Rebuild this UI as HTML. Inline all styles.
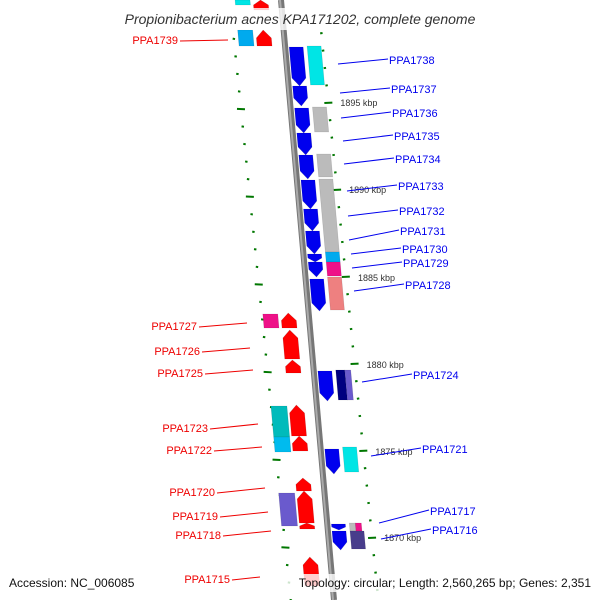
<!DOCTYPE html>
<html><head><meta charset="utf-8"><style>
body{margin:0;background:#fff}
svg{display:block;font-family:"Liberation Sans",sans-serif}
</style></head><body>
<svg id="map" width="600" height="600" viewBox="0 0 600 600">
<g id="ticks"></g>
<line x1="281" y1="0" x2="334" y2="600" stroke="#777" stroke-width="6"/>
<line x1="280" y1="0" x2="333" y2="600" stroke="#aaa" stroke-width="2"/>
<g id="genes"></g>
<g id="labels"></g>
<rect x="100" y="8" width="400" height="22" fill="#fff" opacity="0.8"/>
<text x="300" y="24" text-anchor="middle" font-size="14" font-style="italic" fill="#333">Propionibacterium acnes KPA171202, complete genome</text>
<rect x="260" y="574" width="336" height="18" fill="#fff" opacity="0.8"/>
<text x="9" y="587" font-size="12" fill="#111">Accession: NC_006085</text>
<text x="591" y="587" text-anchor="end" font-size="12" fill="#111">Topology: circular; Length: 2,560,265 bp; Genes: 2,351</text>
</svg>
<script>
const NS='http://www.w3.org/2000/svg';
const bx=y=>281+0.0885*y;
// genes: [y0,y1,lane(offset start),width,color,dir(1 down,-1 up,0 box)]
const genesData=[
[47,86,4,14,'#0000ee',1],[86,106,4,14,'#0000ee',1],[108,133,4,14,'#0000ee',1],[133,155,4,14,'#0000ee',1],
[155,179,4,14,'#0000ee',1],[180,209,4,14,'#0000ee',1],[209,231,4,14,'#0000ee',1],[231,254,4,14,'#0000ee',1],
[254,262,4,14,'#0000ee',1],[262,277,4,14,'#0000ee',1],[279,311,4,14,'#0000ee',1],[371,401,4,14,'#0000ee',1],
[449,474,4,14,'#0000ee',1],[531,550,4,14,'#0000ee',1],[524,530,4,14,'#0000ee',1],
[46,85,22,14,'#00e5e5',0],[107,132,22,14,'#bbbbbb',0],[154,177,22,14,'#bbbbbb',0],[179,252,22,14,'#bbbbbb',0],
[252,262,22,14,'#00aaee',0],[262,276,22,14,'#ee1188',0],[277,310,22,14,'#ee8080',0],
[370,400,22,9,'#000080',0],[370,400,31,6,'#6a5acd',0],[447,472,22,14,'#00e5e5',0],
[523,531,22,6,'#bbbbbb',0],[523,531,28,6,'#ee1188',0],[531,549,22,14,'#483d8b',0],
[0,10,-28,15,'#ff0000',-1],[30,46,-28,15,'#ff0000',-1],[313,328,-28,15,'#ff0000',-1],[330,359,-28,15,'#ff0000',-1],
[360,373,-28,15,'#ff0000',-1],[405,436,-28,15,'#ff0000',-1],[436,451,-28,15,'#ff0000',-1],[478,491,-28,15,'#ff0000',-1],
[491,523,-28,15,'#ff0000',-1],[523,529,-28,15,'#ff0000',-1],[557,586,-28,15,'#ff0000',-1],
[0,5,-46,15,'#00e5e5',0],[30,46,-46,15,'#00aaee',0],[314,328,-46,15,'#ee1188',0],
[406,437,-46,16,'#00bbbb',0],[437,452,-46,16,'#00bbee',0],[493,526,-46,16,'#6a5acd',0]
];
const rightLabels=[['PPA1738',60,338,64],['PPA1737',89,340,93],['PPA1736',113,341,118],['PPA1735',136,343,141],
['PPA1734',159,344,164],['PPA1733',186,347,191],['PPA1732',211,348,216],['PPA1731',231,349,240],['PPA1730',249,351,254],
['PPA1729',263,352,268],['PPA1728',285,354,291],['PPA1724',375,362,382],['PPA1721',449,371,456],['PPA1717',511,379,523],['PPA1716',530,381,539]];
const leftLabels=[['PPA1739',40,228,40],['PPA1727',326,247,323],['PPA1726',351,250,348],['PPA1725',373,253,370],
['PPA1723',428,258,424],['PPA1722',450,262,447],['PPA1720',492,265,488],['PPA1719',516,268,512],['PPA1718',535,271,531],['PPA1715',579,280,577]];
const majorTicks=['1895 kbp','1890 kbp','1885 kbp','1880 kbp','1875 kbp','1870 kbp'];
const majorY=[103,190,278,365,452,538];
function el(tag,attrs,parent){const e=document.createElementNS(NS,tag);for(const k in attrs)e.setAttribute(k,attrs[k]);parent.appendChild(e);return e;}
const G=document.getElementById('genes'),L=document.getElementById('labels'),T=document.getElementById('ticks');
genesData.forEach(g=>{
  const [y0,y1,off,w,c,dir]=g;
  const xa=y=>bx(y)+off;let pts;
  const h=Math.min(8,(y1-y0)*0.5);
  if(dir===1)pts=[[xa(y0),y0],[xa(y0)+w,y0],[xa(y1-h)+w,y1-h],[xa(y1)+w/2,y1],[xa(y1-h),y1-h]];
  else if(dir===-1)pts=[[xa(y0)+w/2,y0],[xa(y0+h)+w,y0+h],[xa(y1)+w,y1],[xa(y1),y1],[xa(y0+h),y0+h]];
  else pts=[[xa(y0),y0],[xa(y0)+w,y0],[xa(y1)+w,y1],[xa(y1),y1]];
  const p=el('polygon',{points:pts.map(q=>q.join(',')).join(' '),fill:c,stroke:'rgba(0,0,0,0.15)','stroke-width':0.6},G);
  
  
});
rightLabels.forEach(r=>{
  const ln=el('line',{x1:r[2],y1:r[3],x2:r[2]+50,y2:r[1]-1,stroke:'#0000ee','stroke-width':1},L);
  
  
  const t=el('text',{x:r[2]+51,y:r[1]+4,'font-size':11,fill:'#0000ee'},L);t.textContent=r[0];
  
  
});
leftLabels.forEach(r=>{
  const ln=el('line',{x1:r[2]-48,y1:r[1]+1,x2:r[2]-20,y2:r[3],stroke:'#ee0000','stroke-width':1},L);
  if(r[0]!=='PPA1715')ln.setAttribute('x2',r[2]);
  
  
  const t=el('text',{x:r[2]-50,y:r[1]+4,'font-size':11,fill:'#ee0000','text-anchor':'end'},L);t.textContent=r[0];
  
  
});
for(let i=-4;i<35;i++){
  const y=majorY[0]+(i)*87/5;
  if(y<-5||y>605)continue;
  const major=i%5===0;
  const xr=bx(y)+37+y*0.012;
  const r=el('line',{x1:xr-(major?4:1.2),y1:y,x2:xr+(major?4:1.2),y2:y-0.4,stroke:'#007700','stroke-width':2},T);
  
  
  const yl=y+5+y*0.008;
  const xl=bx(yl)-51+y*0.013;
  const l=el('line',{x1:xl-(major?4:1.2),y1:yl,x2:xl+(major?4:1.2),y2:yl+0.4,stroke:'#007700','stroke-width':2},T);
  
  
}
majorTicks.forEach((s,i)=>{
  const y=majorY[i];
  const t=el('text',{x:bx(y)+49+y*0.012,y:y+3,'font-size':9,fill:'#333'},T);t.textContent=s;
  
  
});
</script>
</body></html>
